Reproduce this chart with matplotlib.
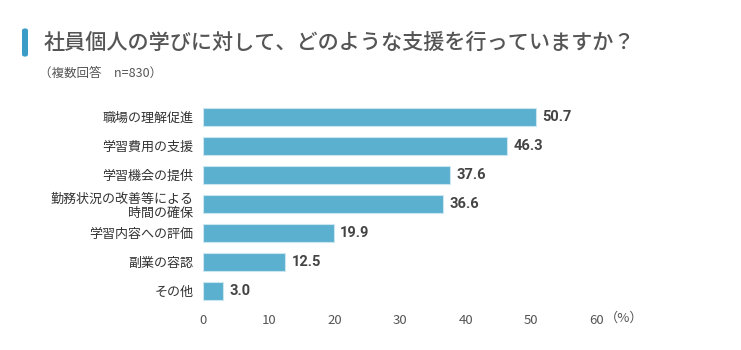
import matplotlib
matplotlib.use("Agg")
import matplotlib.pyplot as plt
from matplotlib.patches import FancyBboxPatch

plt.rcParams['font.family'] = ['Noto Sans CJK JP', 'DejaVu Sans']

categories = ["職場の理解促進", "学習費用の支援", "学習機会の提供",
              "勤務状況の改善等による\n時間の確保", "学習内容への評価", "副業の容認", "その他"]
values = [50.7, 46.3, 37.6, 36.6, 19.9, 12.5, 3.0]
xticks = [0, 10, 20, 30, 40, 50, 60]

title = "社員個人の学びに対して、どのような支援を行っていますか？"
subtitle = "（複数回答　n=830）"

W, H = 741, 350
fig = plt.figure(figsize=(W / 100, H / 100), dpi=100)
fig.patch.set_facecolor("white")

ax = fig.add_axes([203 / W, 1 - 305.5 / H, 394 / W, 203 / H])
ypos = list(range(len(categories)))
ax.barh(ypos, values, height=0.6, color="#5bb0d0", edgecolor="#c9e6f1", linewidth=0.8)
ax.set_ylim(len(categories) - 0.5, -0.5)
ax.set_xlim(0, 60)
ax.set_yticks(ypos)
ax.set_yticklabels(categories, fontsize=9.4, color="#333333", linespacing=1.1)
ax.set_xticks(xticks)
ax.set_xticklabels([str(t) for t in xticks], fontsize=9.5, color="#555555")
ax.tick_params(axis="both", length=0)
ax.tick_params(axis="y", pad=7)
ax.tick_params(axis="x", pad=6)
for s in ax.spines.values():
    s.set_visible(False)

for y, v in zip(ypos, values):
    ax.text(v + 1.0, y, f"{v:.1f}", va="center", ha="left", fontsize=10.5,
            fontweight="bold", color="#444444",
            family=["Roboto", "DejaVu Sans"])

fig.text(605 / W, 1 - 318 / H, "（%）", fontsize=9.5, color="#555555", va="center", ha="left")

# accent bar
fig.patches.append(FancyBboxPatch((22 / W, 1 - 57 / H), 6 / W, 29 / H,
                                  boxstyle="round,pad=0,rounding_size=0.007",
                                  transform=fig.transFigure, facecolor="#3a9dc8",
                                  edgecolor="none"))
fig.text(44 / W, 1 - 43 / H, title, fontsize=15.2, fontweight="medium", color="#555555",
         va="center", ha="left")
fig.text(39 / W, 1 - 73 / H, subtitle, fontsize=9, color="#555555", va="center", ha="left")

fig.savefig("out.png", dpi=100, facecolor="white")
